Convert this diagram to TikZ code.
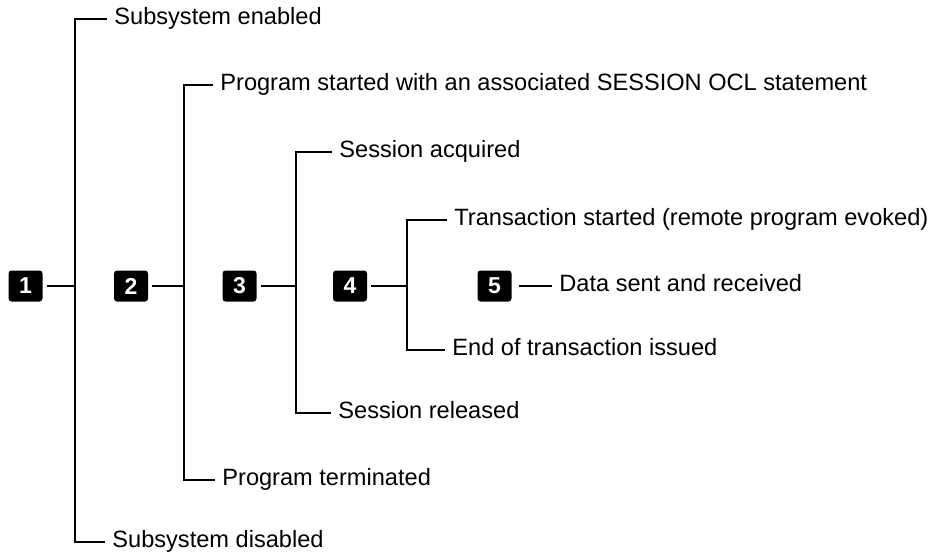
\documentclass[tikz,border=0pt]{standalone}
\usepackage{fontspec}
\setmainfont{Liberation Sans}
\begin{document}
\begin{tikzpicture}[x=0.5pt,y=-0.5pt,line width=1.4pt,
	num/.style={fill=black,rounded corners=1.5pt,text=white,minimum width=17pt,minimum height=15.5pt,inner sep=0pt,font=\fontsize{11.5}{12}\selectfont\bfseries},
	lbl/.style={anchor=mid west,inner sep=3pt,font=\fontsize{11.8}{13}\selectfont}]
	\useasboundingbox (0,0) rectangle (938,556);
	%
	\node[num] (b1) at (25.5,286) {1};
	\node[num] (b2) at (131,286)  {2};
	\node[num] (b3) at (239.5,286) {3};
	\node[num] (b4) at (350,286)  {4};
	\node[num] (b5) at (494.5,286) {5};
	%
	\coordinate (j1) at (75,286);
	\coordinate (j2) at (184,286);
	\coordinate (j3) at (296,286);
	\coordinate (j4) at (407,286);
	%
	\node[lbl] (en)    at (107,19)  {Subsystem enabled};
	\node[lbl] (dis)   at (105,542) {Subsystem disabled};
	\node[lbl] (pst)   at (213,85)  {Program started with an associated SESSION OCL statement};
	\node[lbl] (pterm) at (215,480) {Program terminated};
	\node[lbl] (sacq)  at (332,152) {Session acquired};
	\node[lbl] (srel)  at (331,413) {Session released};
	\node[lbl] (tst)   at (447,220) {Transaction started (remote program evoked)};
	\node[lbl] (eot)   at (445,350) {End of transaction issued};
	\node[lbl] (dat)   at (552,286) {Data sent and received};
	%
	\draw[shorten <=1.5pt] (b1) -- (j1);
	\draw[shorten <=1.5pt] (b2) -- (j2);
	\draw[shorten <=1.5pt] (b3) -- (j3);
	\draw[shorten <=1.5pt] (b4) -- (j4);
	\draw[shorten <=3pt] (b5) -- (dat.mid west);
	%
	\draw (en.mid west) -| (j1) |- (dis.mid west);
	\draw (pst.mid west) -| (j2) |- (pterm.mid west);
	\draw (sacq.mid west) -| (j3) |- (srel.mid west);
	\draw (tst.mid west) -| (j4) |- (eot.mid west);
\end{tikzpicture}
\end{document}
